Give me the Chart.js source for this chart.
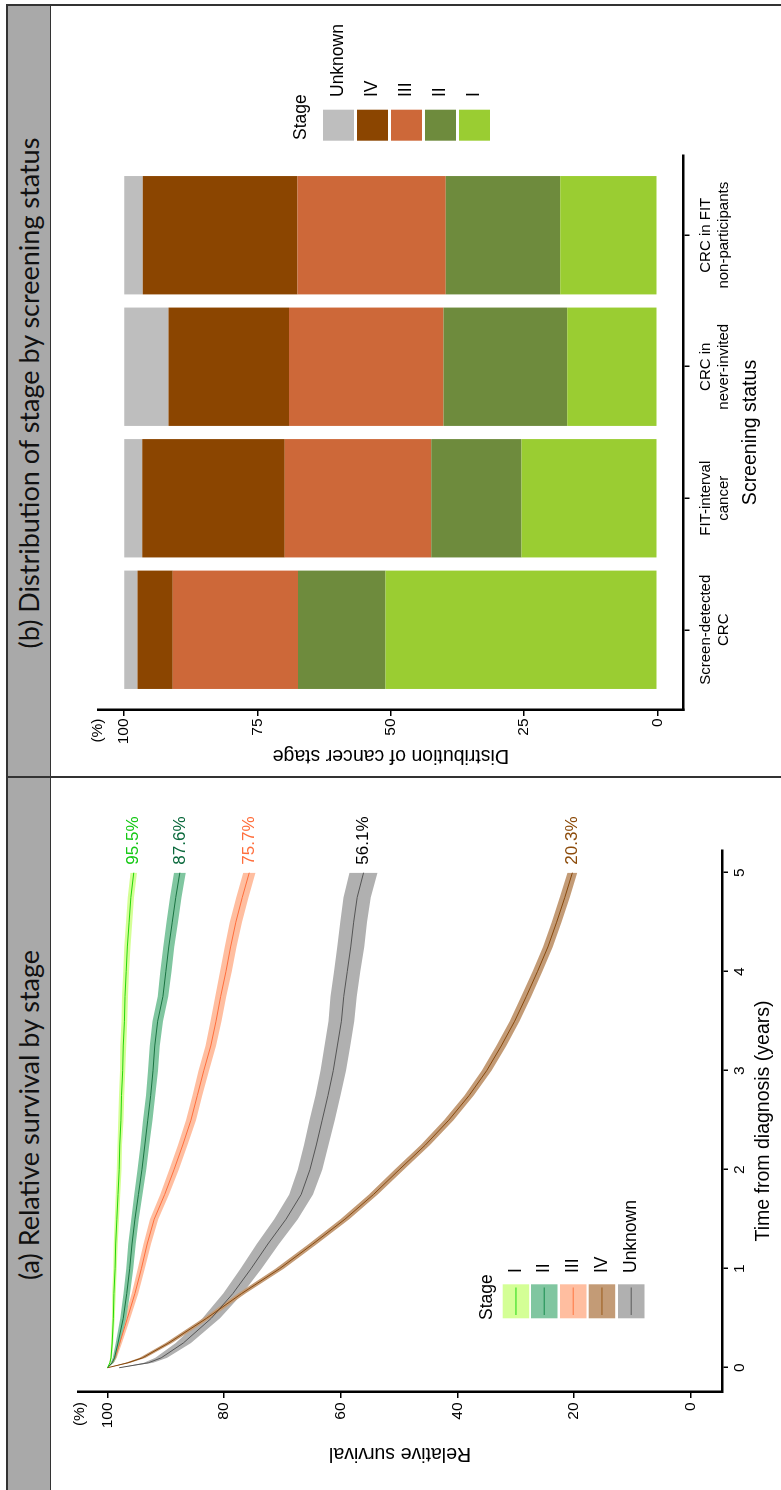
<!DOCTYPE html>
<html>
<head>
<meta charset="utf-8">
<script src="https://cdn.jsdelivr.net/npm/chart.js@4.4.0/dist/chart.umd.min.js"></script>
<style>
  html, body { margin: 0; padding: 0; background: #fff; }
  body { width: 781px; height: 1490px; overflow: hidden; position: relative; }
  /* the figure is laid out landscape and turned a quarter to the left */
  #figure { position: absolute; left: 0; top: 0; width: 1490px; height: 781px;
            transform-origin: 0 0; transform: translate(0, 1490px) rotate(-90deg); }
  .strip { position: absolute; left: 0; top: 7px; width: 1485px; height: 43px; background: #a9a9a9; }
  .rule { position: absolute; background: #333; }
  .header { position: absolute; top: 7px; height: 43px; line-height: 43px; text-align: center;
            font-family: Lato, "Open Sans", sans-serif; font-size: 27px; color: #111; white-space: nowrap; }
  canvas { position: absolute; }
</style>
</head>
<body>
<div id="figure">
  <div class="strip"></div>
  <div class="header" style="left:0; width:750px;">(a) Relative survival by stage</div>
  <div class="header" style="left:713px; width:768px;">(b) Distribution of stage by screening status</div>
  <canvas id="survivalChart" width="712" height="731" style="left:0; top:50px;"></canvas>
  <canvas id="stageChart" width="770" height="731" style="left:714px; top:50px;"></canvas>
  <div class="rule" style="left:0; top:6px; width:1486px; height:1.5px;"></div>
  <div class="rule" style="left:0; top:49.5px; width:1486px; height:1.5px;"></div>
  <div class="rule" style="left:1484px; top:6px; width:1.5px; height:775px;"></div>
  <div class="rule" style="left:712px; top:6px; width:1.5px; height:775px;"></div>
</div>
<script>
// ---- (a) relative survival ----
const years = [0, 0.05, 0.1, 0.25, 0.5, 0.75, 1, 1.25, 1.5, 1.75, 2, 2.25, 2.5, 2.75, 3, 3.25, 3.5, 3.75, 4, 4.25, 4.5, 4.75, 5];
const survStageI   = [100, 99.6, 99.4, 99.2, 99.0, 98.9, 98.7, 98.6, 98.4, 98.2, 98.0, 97.9, 97.7, 97.6, 97.4, 97.3, 97.1, 97.0, 96.8, 96.6, 96.3, 96.0, 95.5];
const survStageII  = [100, 99.2, 98.8, 98.2, 97.3, 96.7, 96.2, 95.8, 95.3, 94.7, 94.1, 93.6, 93.1, 92.6, 92.2, 91.9, 91.4, 90.5, 90.0, 89.5, 88.9, 88.3, 87.6];
const survStageIII = [100, 99.2, 98.7, 97.9, 96.6, 95.3, 94.2, 93.2, 92.0, 90.2, 88.6, 87.1, 85.7, 84.6, 83.5, 82.3, 81.4, 80.6, 79.7, 78.9, 78.0, 76.9, 75.7];
const survStageIV  = [100, 96.5, 94.0, 89.5, 83.0, 77.0, 70.5, 64.8, 59.3, 54.4, 50.0, 45.5, 41.5, 38.0, 35.0, 32.5, 30.2, 28.2, 26.3, 24.5, 23.0, 21.6, 20.3];
const survUnknown  = [98.0, 93.0, 90.8, 87.0, 82.2, 78.5, 75.4, 72.5, 69.4, 66.8, 65.3, 64.2, 63.2, 62.2, 61.3, 60.6, 59.9, 59.5, 58.9, 58.3, 57.8, 57.2, 56.1];
// half width of the shaded confidence band
const ciStageI   = [0, 0.1, 0.15, 0.2, 0.25, 0.3, 0.3, 0.35, 0.35, 0.4, 0.4, 0.4, 0.45, 0.45, 0.45, 0.5, 0.5, 0.5, 0.5, 0.55, 0.55, 0.55, 0.55];
const ciStageII  = [0, 0.25, 0.3, 0.4, 0.5, 0.55, 0.6, 0.65, 0.65, 0.7, 0.75, 0.75, 0.8, 0.8, 0.85, 0.85, 0.9, 0.9, 0.95, 0.95, 1.0, 1.0, 1.0];
const ciStageIII = [0, 0.25, 0.3, 0.4, 0.5, 0.55, 0.6, 0.65, 0.7, 0.75, 0.8, 0.8, 0.85, 0.85, 0.9, 0.9, 0.95, 0.95, 1.0, 1.0, 1.05, 1.05, 1.05];
const ciStageIV  = [0, 0.4, 0.5, 0.55, 0.6, 0.65, 0.7, 0.7, 0.75, 0.75, 0.8, 0.8, 0.8, 0.8, 0.85, 0.85, 0.85, 0.85, 0.85, 0.85, 0.85, 0.85, 0.85];
const ciUnknown  = [0, 0.8, 1.0, 1.3, 1.5, 1.65, 1.8, 1.9, 2.0, 2.05, 2.1, 2.1, 2.15, 2.15, 2.2, 2.2, 2.2, 2.25, 2.25, 2.3, 2.3, 2.35, 2.4];
const endLabels = ['95.5%', '87.6%', '75.7%', '20.3%', '56.1%'];
const yearTicks = [0, 1, 2, 3, 4, 5];
const survTicks = [0, 20, 40, 60, 80, 100];

// ---- (b) stage distribution (%) by screening status ----
const statusLabels = [['Screen-detected', 'CRC'], ['FIT-interval', 'cancer'], ['CRC in', 'never-invited'], ['CRC in FIT', 'non-participants']];
const statusPos = [1, 2, 3, 4];
const stageNames = ['I', 'II', 'III', 'IV', 'Unknown'];
const shareStageI   = [51.0, 25.5, 16.9, 18.2];
const shareStageII  = [16.4, 16.9, 23.2, 21.5];
const shareStageIII = [23.5, 27.5, 29.0, 27.8];
const shareStageIV  = [6.6, 26.7, 22.6, 29.0];
const shareUnknown  = [2.5, 3.4, 8.3, 3.5];
const distTicks = [0, 25, 50, 75, 100];

const FONT = '"Liberation Sans", Arial, sans-serif';

document.addEventListener('DOMContentLoaded', function() {
    Chart.defaults.animation = false;
    Chart.defaults.events = [];

    // Styles for the survival curves
    const survSeries = [
        { mid: survStageI,   ci: ciStageI,   line: 'rgb(35,215,10)',  band: 'rgb(212,255,150)', text: 'rgb(20,200,20)' },
        { mid: survStageII,  ci: ciStageII,  line: 'rgb(25,115,65)',  band: 'rgb(128,198,160)', text: 'rgb(10,105,60)' },
        { mid: survStageIII, ci: ciStageIII, line: 'rgb(255,110,60)', band: 'rgb(255,190,160)', text: 'rgb(255,110,60)' },
        { mid: survStageIV,  ci: ciStageIV,  line: 'rgb(135,72,12)',  band: 'rgb(195,155,118)', text: 'rgb(140,75,10)' },
        { mid: survUnknown,  ci: ciUnknown,  line: 'rgb(85,85,85)',   band: 'rgb(176,176,176)', text: '#000' }
    ];
    const legendLines = ['rgb(60,225,40)', 'rgb(40,150,90)', 'rgb(255,130,80)', 'rgb(160,100,40)', 'rgb(105,105,105)'];

    function points(values) {
        return years.map((t, i) => ({ x: t, y: values[i] }));
    }

    const lineSets = survSeries.map(s => ({
        data: points(s.mid), borderColor: s.line, borderWidth: 1, pointRadius: 0, fill: false
    }));
    const bandSets = [];
    survSeries.forEach(s => {
        bandSets.push({ data: points(s.mid.map((v, i) => v + s.ci[i])), borderWidth: 0, pointRadius: 0,
                        backgroundColor: s.band, fill: '+1' });
        bandSets.push({ data: points(s.mid.map((v, i) => v - s.ci[i])), borderWidth: 0, pointRadius: 0, fill: false });
    });

    function axisStyle(tickValues, font) {
        return {
            grid: { drawOnChartArea: false, drawTicks: true, tickLength: 6, color: '#000', lineWidth: 1.5 },
            border: { display: true, color: '#000', width: 2.5 },
            ticks: { color: '#000', font: font, autoSkip: false, maxRotation: 0 },
            afterBuildTicks: function(axis) { axis.ticks = tickValues.map(v => ({ value: v })); }
        };
    }

    // Labels at the end of each curve, legend and the (%) mark
    const survivalDecor = {
        id: 'survivalDecor',
        afterDraw(chart) {
            const ctx = chart.ctx;
            ctx.save();
            ctx.font = '17px ' + FONT;
            ctx.textBaseline = 'middle';
            ctx.textAlign = 'left';
            for (let i = 0; i < survSeries.length; i++) {
                const pts = chart.getDatasetMeta(i).data;
                const last = pts[pts.length - 1];
                ctx.fillStyle = survSeries[i].text;
                ctx.fillText(endLabels[i], last.x + 8, last.y);
            }
            ctx.font = '17.5px ' + FONT;
            ctx.fillStyle = '#000';
            ctx.fillText('Stage', 170, 437);
            const tops = [452.7, 481, 510, 538.7, 568];
            tops.forEach((top, k) => {
                ctx.fillStyle = survSeries[k].band;
                ctx.fillRect(171.7, top, 34, 26.5);
                ctx.strokeStyle = legendLines[k];
                ctx.lineWidth = 1.2;
                ctx.beginPath();
                ctx.moveTo(175, top + 13.25);
                ctx.lineTo(202.5, top + 13.25);
                ctx.stroke();
                ctx.fillStyle = '#000';
                ctx.fillText(stageNames[k], 217, top + 13.25);
            });
            ctx.font = '15.5px ' + FONT;
            ctx.textAlign = 'right';
            ctx.fillText('(%)', chart.chartArea.left - 10, chart.chartArea.top + 1.5);
            ctx.restore();
        }
    };

    new Chart(document.getElementById('survivalChart'), {
        type: 'line',
        data: { datasets: lineSets.concat(bandSets) },
        options: {
            responsive: false,
            layout: { padding: { left: 0, top: 28, right: 72, bottom: 0 } },
            plugins: { legend: { display: false }, tooltip: { enabled: false } },
            scales: {
                x: Object.assign(axisStyle(yearTicks, { family: FONT, size: 15.5 }), {
                    type: 'linear', min: -0.245, max: 5.229,
                    title: { display: true, text: 'Time from diagnosis (years)', color: '#000',
                             font: { family: FONT, size: 19.5 }, padding: { top: 0, bottom: 5.8 } },
                    afterFit: function(axis) { axis.height = 59; }
                }),
                y: Object.assign(axisStyle(survTicks, { family: FONT, size: 15.5 }), {
                    type: 'linear', min: -5.35, max: 105.06,
                    title: { display: true, text: 'Relative survival', color: '#000',
                             font: { family: FONT, size: 19.5 }, padding: { top: 25.3, bottom: 0 } },
                    afterFit: function(axis) { axis.width = 98; }
                })
            }
        },
        plugins: [survivalDecor]
    });
    
    // Stacked bars for panel (b)
    const shares = [shareStageI, shareStageII, shareStageIII, shareStageIV, shareUnknown];
    const barColors = ['#9ACD32', '#6E8B3D', '#CD6839', '#8B4500', '#BEBEBE'];

    const stageDecor = {
        id: 'stageDecor',
        afterDraw(chart) {
            const ctx = chart.ctx;
            ctx.save();
            ctx.font = '17.5px ' + FONT;
            ctx.textBaseline = 'middle';
            ctx.fillStyle = '#000';
            ctx.fillText('Stage', 636, 251);
            [4, 3, 2, 1, 0].forEach((k, row) => {
                const top = 273 + row * 34;
                ctx.fillStyle = barColors[k];
                ctx.fillRect(635.3, top, 31, 31);
                ctx.fillStyle = '#000';
                ctx.fillText(stageNames[k], 679, top + 15.5);
            });
            ctx.font = '15.5px ' + FONT;
            ctx.textAlign = 'right';
            ctx.fillText('(%)', chart.chartArea.left - 8.5, chart.chartArea.top);
            ctx.restore();
        }
    };

    new Chart(document.getElementById('stageChart'), {
        type: 'bar',
        data: {
            datasets: stageNames.map((name, k) => ({
                label: name,
                data: statusPos.map((x, i) => ({ x: x, y: shares[k][i] })),
                backgroundColor: barColors[k],
                borderWidth: 0,
                barPercentage: 0.9,
                categoryPercentage: 1
            }))
        },
        options: {
            responsive: false,
            layout: { padding: { left: 0, top: 48, right: 149, bottom: 0 } },
            plugins: { legend: { display: false }, tooltip: { enabled: false } },
            scales: {
                x: Object.assign(axisStyle(statusPos, { family: FONT, size: 15, lineHeight: 1.15 }), {
                    type: 'linear', min: 0.39, max: 4.61, stacked: true, offset: false,
                    title: { display: true, text: 'Screening status', color: '#000',
                             font: { family: FONT, size: 19.5 }, padding: { top: 0, bottom: 18.3 } },
                    afterFit: function(axis) { axis.height = 97.5; }
                }),
                y: Object.assign(axisStyle(distTicks, { family: FONT, size: 15.5 }), {
                    type: 'linear', min: -4.9, max: 104.9, stacked: true,
                    title: { display: true, text: 'Distribution of cancer stage', color: '#000',
                             font: { family: FONT, size: 19.5 }, padding: { top: 8.8, bottom: 0 } },
                    afterFit: function(axis) { axis.width = 66; }
                })
            }
        },
        plugins: [stageDecor]
    });

    // tick padding / labels set after construction to keep the style helper simple
    const barChart = Chart.getChart('stageChart');
    barChart.options.scales.x.grid.offset = false;
    barChart.options.scales.x.ticks.padding = 8;
    barChart.options.scales.x.ticks.callback = function(value) { return statusLabels[statusPos.indexOf(value)]; };
    barChart.options.scales.y.ticks.padding = 2.4;
    barChart.update();

    const lineChart = Chart.getChart('survivalChart');
    lineChart.options.scales.x.ticks.padding = 2;
    lineChart.options.scales.y.ticks.padding = 4.5;
    lineChart.update();
});
</script>
</body>
</html>
